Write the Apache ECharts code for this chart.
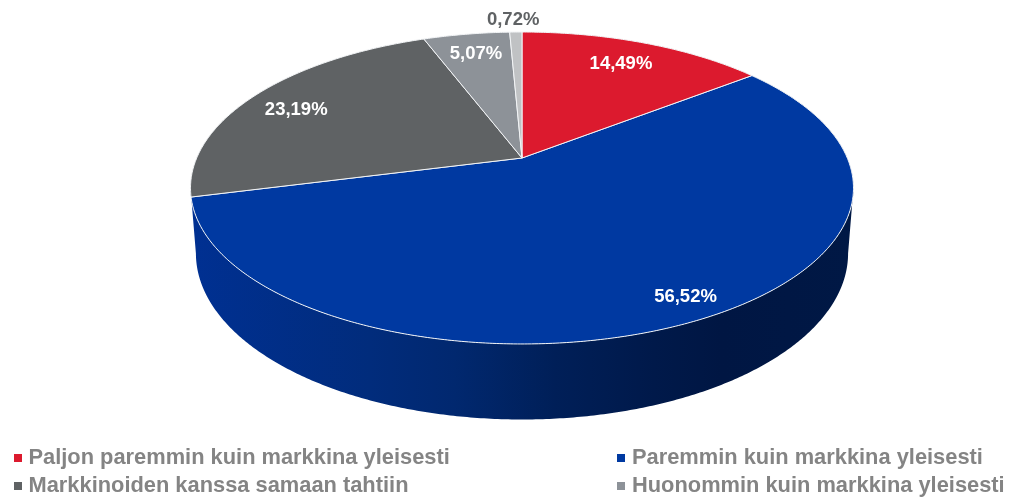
<!DOCTYPE html>
<html><head><meta charset="utf-8">
<style>html,body{margin:0;padding:0;background:#fff}#c{width:1009px;height:498px}</style>
<script src="https://cdn.jsdelivr.net/npm/echarts@6/dist/echarts.min.js"></script>
</head><body><div id="c"></div>
<script>
const categories = [
  "Paljon paremmin kuin markkina yleisesti",
  "Paremmin kuin markkina yleisesti",
  "Markkinoiden kanssa samaan tahtiin",
  "Huonommin kuin markkina yleisesti",
  "Paljon huonommin kuin markkina yleisesti"
];
const values = [14.49, 56.52, 23.19, 5.07, 0.72];
const valueLabels = ["14,49%", "56,52%", "23,19%", "5,07%", "0,72%"];
const legendLeft = [categories[0], categories[2]];
const legendRight = [categories[1], categories[3]];

const colors = ["#dc1a2e", "#0039a1", "#5f6264", "#8d9298", "#c0c2c4"];
const labelColors = ["#fff", "#fff", "#fff", "#fff", "#5f6264"];
const labelRadius = [0.786, 0.85, 0.84, 0.8, 1.135];
const labelNudge = [[0, -1], [21, 5], [0, 6], [0, -2], [-2, 2]];
const wallStops = [[0, "#003092"], [0.27, "#012c7c"], [0.4, "#01286f"], [0.55, "#001f58"], [0.7, "#00194a"], [0.8, "#001643"], [1, "#001845"]];

const total = values.reduce((a, b) => a + b, 0);
const K = 0.1923;
const topDisk = { cx: 522, ay: 158, C: 325.3, B: 150.2, k: K };
const lowDisk = { cx: 522, ay: 221.4, C: 320, B: 160, k: K };
const frontFrom = 101.1, frontTo = 258.9;

function project(d, deg, r) {
  const a = deg * Math.PI / 180;
  const u = r * Math.sin(a), v = r * Math.cos(a), w = 1 + d.k * v;
  return [d.cx + d.C * u / w, d.ay - d.B * v / w];
}
function arc(d, from, to) {
  const pts = [];
  const n = Math.max(2, Math.ceil(Math.abs(to - from) * 2));
  for (let i = 0; i <= n; i++) pts.push(project(d, from + (to - from) * i / n, 1));
  return pts;
}
function renderSlice(idx) {
  return function () {
    const before = values.slice(0, idx).reduce((a, b) => a + b, 0);
    const a0 = before / total * 360, a1 = (before + values[idx]) / total * 360;
    const mid = (a0 + a1) / 2;
    const children = [];
    if (a0 <= 180 && a1 >= 180) {
      children.push({
        type: "polygon", z2: 1,
        shape: { points: arc(topDisk, frontFrom, frontTo).concat(arc(lowDisk, frontTo, frontFrom)) },
        style: { fill: { type: "linear", x: 0, y: 0, x2: 1, y2: 0, colorStops: wallStops.map(s => ({ offset: s[0], color: s[1] })) } }
      });
    }
    children.push({
      type: "polygon", z2: 2,
      shape: { points: [project(topDisk, 0, 0)].concat(arc(topDisk, a0, a1)) },
      style: { fill: colors[idx], stroke: "#f2f4f6", lineWidth: 1, lineJoin: "round" }
    });
    const p = project(topDisk, mid, labelRadius[idx]);
    children.push({
      type: "text", z2: 3,
      style: {
        x: p[0] + labelNudge[idx][0], y: p[1] + labelNudge[idx][1],
        text: valueLabels[idx], fill: labelColors[idx],
        font: "bold 18.5px 'Liberation Sans', Arial, sans-serif",
        align: "center", verticalAlign: "middle"
      }
    });
    return { type: "group", children };
  };
}

function legendText(leftPad) {
  return { fontFamily: "'Liberation Sans', Arial, sans-serif", fontWeight: "bold", fontSize: 21.85, color: "#848484", padding: [0, 0, 0, leftPad] };
}
const legendBase = {
  orient: "vertical", top: 447, height: 70, padding: 0, itemWidth: 8, itemHeight: 8, itemGap: 6,
  icon: "rect", selectedMode: false
};

const chart = echarts.init(document.getElementById("c"), null, { renderer: "canvas" });
chart.setOption({
  animation: false,
  backgroundColor: "#fff",
  legend: [
    Object.assign({}, legendBase, { left: 14, data: legendLeft, textStyle: legendText(1.5) }),
    Object.assign({}, legendBase, { left: 617, data: legendRight, textStyle: legendText(2) })
  ],
  series: categories.map((name, i) => ({
    type: "custom", name, coordinateSystem: "none", silent: true,
    z: i === 1 ? 1 : 2,
    itemStyle: { color: colors[i] },
    data: [[values[i]]],
    renderItem: renderSlice(i)
  }))
});
</script></body></html>
